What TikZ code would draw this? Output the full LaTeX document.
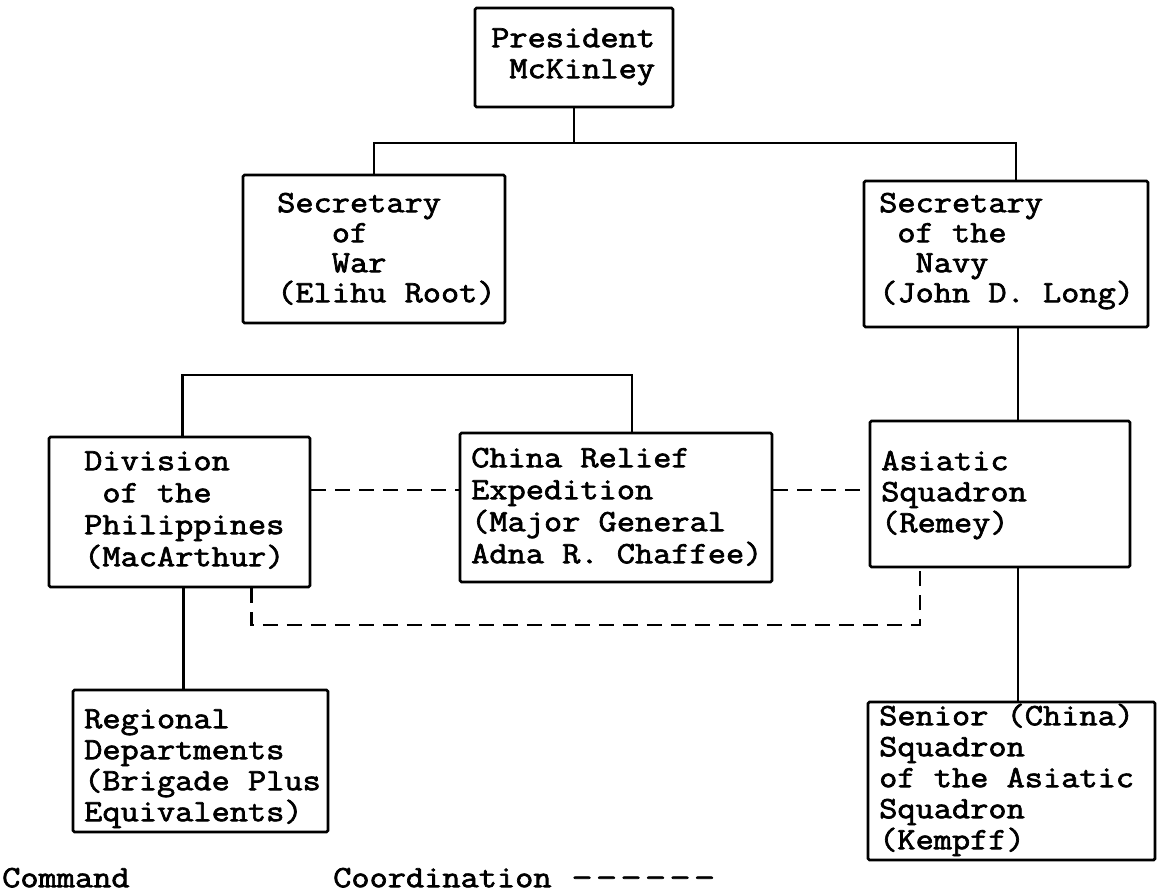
\documentclass[tikz,border=0pt]{standalone}
\usepackage{fontspec}
\newfontfamily\tw[FakeBold=2.2,FakeStretch=1.14]{Latin Modern Mono}
\usetikzlibrary{calc}
\newcommand\fs{\rule{0pt}{25pt}}
\newcommand\hy{\makebox[24.5pt]{\scalebox{1.15}[1]{-}}}
\begin{document}
\begin{tikzpicture}[x=1pt,y=-1pt,
  box/.style={draw, line width=2.8pt, rounded corners=1.5pt, inner sep=0pt},
  lbl/.style={anchor=north west, inner sep=0pt, align=left, font=\tw\frenchspacing\fontsize{31pt}{31pt}\selectfont},
  lbltight/.style={lbl, font=\tw\frenchspacing\fontsize{31pt}{30pt}\selectfont},
  lblwide/.style={lbl, font=\tw\frenchspacing\fontsize{31pt}{32pt}\selectfont},
  cmd/.style={line width=2.8pt},
  coord/.style={line width=2.5pt, dash pattern=on 15pt off 9pt}]
\useasboundingbox (0,0) rectangle (1157,894);

% boxes
\node[box, minimum width=198pt, minimum height=99pt] (pres) at (574,57.5) {};
\node[box, minimum width=262pt, minimum height=148pt] (war) at (374,249) {};
\node[box, minimum width=284pt, minimum height=146pt] (navy) at (1006,254) {};
\node[box, minimum width=261pt, minimum height=150pt] (div) at (179.5,512) {};
\node[box, minimum width=312pt, minimum height=149pt] (china) at (616,507.5) {};
\node[box, minimum width=260pt, minimum height=146pt] (asia) at (1000,494) {};
\node[box, minimum width=255pt, minimum height=142pt] (reg) at (200.5,761) {};
\node[box, minimum width=287pt, minimum height=158pt] (senior) at (1011.5,781) {};

% texts
\node[lbl] (presT) at (491,22) {\fs President\\\hphantom{x}McKinley};
\node[lbltight] (warT) at (277,187) {\fs Secretary\\\hphantom{xxx}of\\\hphantom{xxx}War\\(Elihu Root)};
\node[lbltight] (navyT) at (879,187) {\fs Secretary\\\hphantom{x}of the\\\hphantom{xx}Navy\\(John D. Long)};
\node[lblwide] (divT) at (84,445) {\fs Division\\\hphantom{x}of the\\Philippines\\(MacArthur)};
\node[lblwide] (chinaT) at (471,442) {\fs China Relief\\Expedition\\(Major General\\Adna R. Chaffee)};
\node[lbl] (asiaT) at (881,445) {\fs Asiatic\\Squadron\\(Remey)};
\node[lbl] (regT) at (84,703) {\fs Regional\\Departments\\(Brigade Plus\\Equivalents)};
\node[lbl] (seniorT) at (879,700) {\fs Senior (China)\\Squadron\\of the Asiatic\\Squadron\\(Kempff)};

% legend
\node[lbl] (lcmd) at (2,862) {\fs Command};
\node[lbl] (lcoord) at (333,862) {\fs Coordination \hy\hy\hy\hy\hy\hy};

% command lines
\coordinate (jtop) at (575,143);
\coordinate (jmid) at (400,375);
\coordinate (jdash) at (600,625);
\draw[cmd] (pres.south) -- (pres.south |- jtop);
\draw[cmd] (war.north) |- (jtop) -| ([xshift=10pt]navy.north);
\draw[cmd] ([xshift=12pt]navy.south) -- ([xshift=12pt]navy.south |- asia.north);
\draw[cmd] ([xshift=18pt]asia.south) -- ([xshift=18pt]asia.south |- senior.north);
\draw[cmd] ([xshift=3pt]div.north) |- (jmid) -| ([xshift=16pt]china.north);
\draw[cmd] ([xshift=4pt]div.south) -- ([xshift=4pt]div.south |- reg.north);

% coordination lines
\draw[coord] ([yshift=22pt]div.east) -- ([yshift=22pt]div.east -| china.west);
\draw[coord] ([yshift=17.5pt]china.east) -- ([yshift=17.5pt]china.east -| asia.west);
\draw[coord] ([xshift=72pt]div.south) |- (jdash) -| ([xshift=-80pt]asia.south);
\end{tikzpicture}
\end{document}
